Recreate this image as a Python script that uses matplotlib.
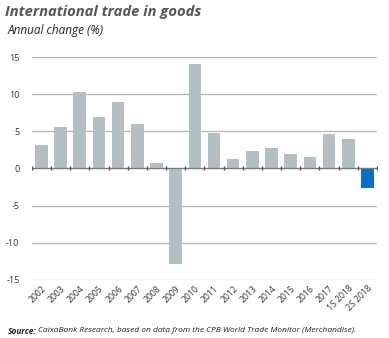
import numpy as np
import matplotlib.pyplot as plt

# Datos
categorias = ['2002', '2003', '2004', '2005', '2006', '2007', '2008', '2009',
              '2010', '2011', '2012', '2013', '2014', '2015', '2016', '2017',
              '1S 2018', '2S 2018']
valores = [3.1, 5.65, 10.3, 7.0, 8.9, 6.0, 0.8, -12.8,
           14.1, 4.75, 1.3, 2.3, 2.8, 1.9, 1.5, 4.65, 4.0, -2.6]
yticks = [-15, -10, -5, 0, 5, 10, 15]

gris = '#b4bfc4'
azul = '#0a6fc0'
colores = [gris] * (len(valores) - 1) + [azul]

plt.rcParams['font.family'] = ['Open Sans', 'DejaVu Sans']

fig = plt.figure(figsize=(3.89, 3.38), dpi=100)
ax = fig.add_axes([0.082, 0.172, 0.887, 0.659])

x = np.arange(len(categorias))
ax.bar(x, valores, width=0.66, color=colores, zorder=3)

# Línea de cero con marcas entre barras
ax.axhline(0, color='#7a7a7a', linewidth=0.9, zorder=4)
ax.plot(np.arange(-0.5, len(categorias)), np.zeros(len(categorias) + 1),
        linestyle='none', marker='|', markersize=2.5, color='#555555', zorder=5)

ax.set_xlim(-0.5, len(categorias) - 0.5)
ax.set_ylim(-15, 15)
ax.set_yticks(yticks)
ax.set_yticklabels([str(v) for v in yticks], fontsize=6.5, color='#333333')
ax.set_xticks(x)
ax.set_xticklabels(categorias, rotation=45, ha='right', rotation_mode='anchor',
                   fontsize=6.2, color='#333333')
ax.tick_params(axis='both', length=0)
ax.tick_params(axis='y', pad=9)
ax.tick_params(axis='x', pad=3)
ax.grid(axis='y', color='#b5b5b5', linewidth=0.9, zorder=0)
for s in ax.spines.values():
    s.set_visible(False)

# Títulos
fig.text(0.013, 1 - 5 / 338, 'International trade in goods', fontsize=10.6,
         fontweight='bold', fontstyle='italic', color='#555555', va='top')
fig.text(0.02, 1 - 24 / 338, 'Annual change (%)', fontsize=8.5,
         fontstyle='italic', color='#222222', va='top')

# Fuente
t = fig.text(0.02, 1 - 331 / 338, 'Source:', fontsize=6.0, fontweight='bold',
             fontstyle='italic', color='#222222', va='center')
fig.canvas.draw()
bb = t.get_window_extent()
fig.text(bb.x1 / fig.bbox.width + 0.004, 1 - 331 / 338,
         'CaixaBank Research, based on data from the CPB World Trade Monitor (Merchandise).',
         fontsize=6.0, fontstyle='italic', color='#222222', va='center')

plt.savefig('out.png', dpi=100)
